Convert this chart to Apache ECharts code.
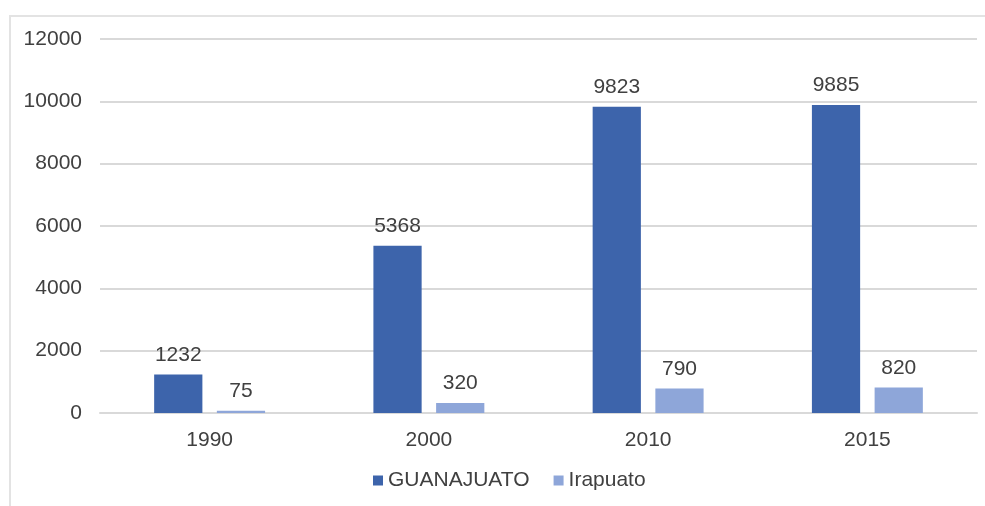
<!DOCTYPE html>
<html>
<head>
<meta charset="utf-8">
<script src="https://cdn.jsdelivr.net/npm/echarts@6/dist/echarts.min.js"></script>
<style>
  html, body { margin: 0; padding: 0; background: #fff; }
  #frame { position: absolute; left: 9px; top: 15px; width: 985px; height: 500px;
           border-left: 2px solid #e3e3e3; border-top: 2px solid #e3e3e3; box-sizing: border-box; }
  #chart { position: absolute; left: 0; top: 0; width: 985px; height: 506px; }
</style>
</head>
<body>
<div id="frame"></div>
<div id="chart"></div>
<script>
const years = ['1990', '2000', '2010', '2015'];
const guanajuato = [1232, 5368, 9823, 9885];
const irapuato = [75, 320, 790, 820];
const yTicks = { min: 0, max: 12000, interval: 2000 };

const textColor = '#404040';
const font = 'Liberation Sans, Arial, sans-serif';
const fs = 21;

const chart = echarts.init(document.getElementById('chart'), null, { renderer: 'canvas' });
chart.setOption({
  animation: false,
  textStyle: { fontFamily: font },
  grid: { left: 100, right: 8, top: 39, bottom: 93, containLabel: false },
  legend: {
    bottom: 10,
    left: 368,
    itemWidth: 10,
    itemHeight: 10,
    itemGap: 24,
    icon: 'rect',
    textStyle: { color: textColor, fontSize: fs, fontFamily: font },
    data: ['GUANAJUATO', 'Irapuato']
  },
  xAxis: {
    type: 'category',
    data: years,
    axisLine: { lineStyle: { color: '#d9d9d9', width: 2 } },
    axisTick: { show: false },
    axisLabel: { color: textColor, fontSize: fs, margin: 17 }
  },
  yAxis: {
    type: 'value',
    min: yTicks.min,
    max: yTicks.max,
    interval: yTicks.interval,
    axisLine: { show: false },
    axisTick: { show: false },
    splitLine: { lineStyle: { color: '#d9d9d9', width: 2 } },
    axisLabel: { color: textColor, fontSize: fs, margin: 18, formatter: v => String(v) }
  },
  series: [
    {
      name: 'GUANAJUATO',
      type: 'bar',
      data: guanajuato,
      barWidth: '22%',
      barGap: '30%',
      itemStyle: { color: '#3d64ab' },
      label: { show: true, position: 'top', distance: 9, color: textColor, fontSize: fs }
    },
    {
      name: 'Irapuato',
      type: 'bar',
      data: irapuato,
      barWidth: '22%',
      itemStyle: { color: '#8ea6d9' },
      label: { show: true, position: 'top', distance: 9, color: textColor, fontSize: fs }
    }
  ]
});
</script>
</body>
</html>
